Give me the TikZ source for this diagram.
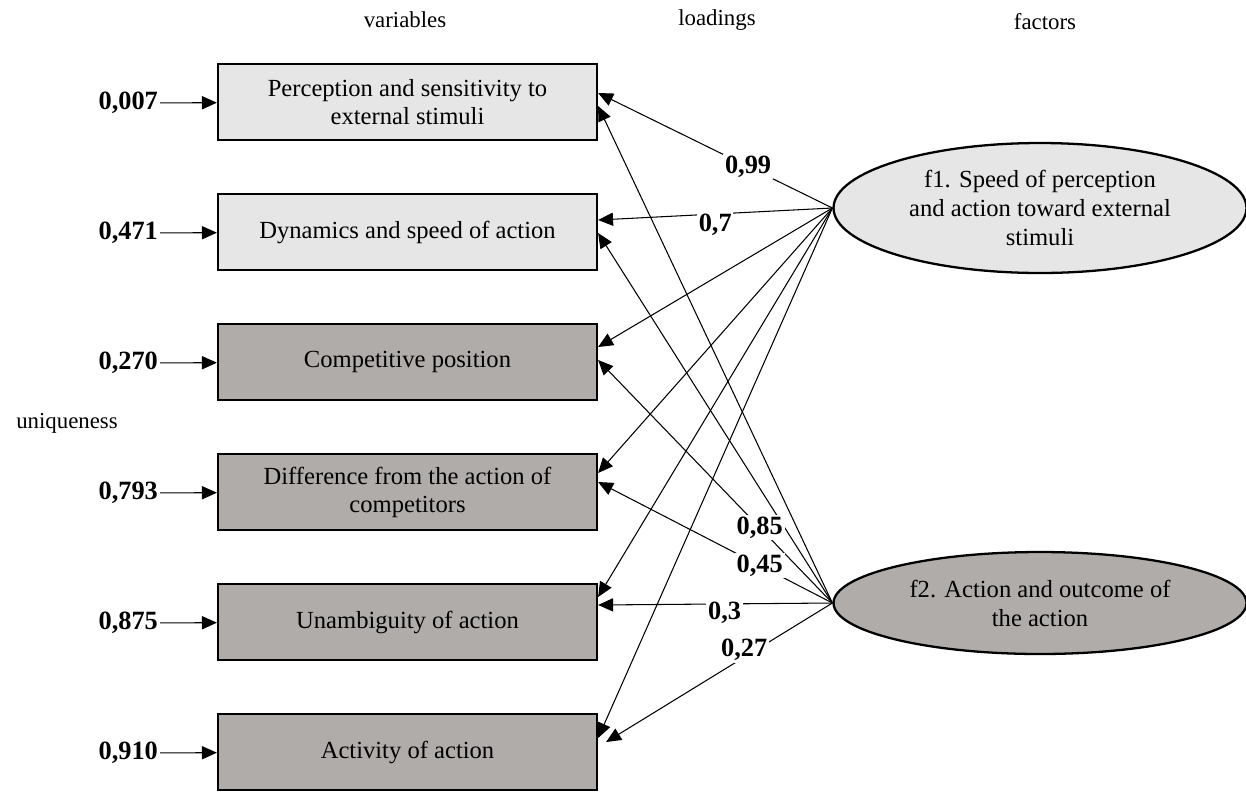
\documentclass[tikz,border=0pt]{standalone}
\usepackage{fontspec}
\setmainfont{Liberation Serif}
\usetikzlibrary{arrows.meta,shapes.geometric,calc}
\definecolor{lightfill}{RGB}{230,230,230}
\definecolor{darkfill}{RGB}{176,172,170}

\begin{document}
\begin{tikzpicture}[x=0.02cm, y=-0.02cm,
	var/.style = {rectangle, draw, line width=1.3pt, minimum width=7.58cm, minimum height=1.52cm, inner sep=0pt, align=center, font=\fontsize{14}{16}\selectfont},
	fac/.style = {ellipse, draw, line width=1.3pt, minimum width=8.26cm, inner sep=0pt, align=center, font=\fontsize{14}{16.5}\selectfont},
	uq/.style = {anchor=east, inner sep=1pt, font=\fontsize{15}{17}\selectfont\bfseries},
	ld/.style = {fill=white, inner sep=1pt, font=\fontsize{15}{17}\selectfont\bfseries},
	hd/.style = {font=\fontsize{13}{15}\selectfont},
	arr/.style = {-{Triangle[length=8.5pt, width=7.5pt]}, line width=0.6pt}]
	\useasboundingbox (0,0) rectangle (1246,792);

	% headers
	\node (hvar) at ( 405,  20)	[hd]	{variables};
	\node (hld)  at ( 717,  20)	[hd]	{loadings};
	\node (hfac) at (1045,  22)	[hd]	{factors};
	\node (huq)  at (  67, 423)	[hd]	{uniqueness};

	% variables
	\node (v1) at (407.5, 102)	[var, fill=lightfill]	{Perception and sensitivity to\\external stimuli};
	\node (v2) at (407.5, 232)	[var, fill=lightfill]	{Dynamics and speed of action};
	\node (v3) at (407.5, 362)	[var, fill=darkfill]	{Competitive position};
	\node (v4) at (407.5, 492)	[var, fill=darkfill]	{Difference from the action of\\competitors};
	\node (v5) at (407.5, 622)	[var, fill=darkfill]	{Unambiguity of action};
	\node (v6) at (407.5, 752)	[var, fill=darkfill]	{Activity of action};

	% factors
	\node (f1) at (1040, 208)	[fac, fill=lightfill, minimum height=2.6cm]	{f1. Speed of perception\\and action toward external\\stimuli};
	\node (f2) at (1040, 603)	[fac, fill=darkfill, minimum height=2.04cm]	{f2. Action and outcome of\\the action};

	% uniqueness
	\node (u1) at (160, 103)	[uq]	{0,007};
	\node (u2) at (160, 233)	[uq]	{0,471};
	\node (u3) at (160, 363)	[uq]	{0,270};
	\node (u4) at (160, 493)	[uq]	{0,793};
	\node (u5) at (160, 623)	[uq]	{0,875};
	\node (u6) at (160, 753)	[uq]	{0,910};
	\draw[arr] (u1) -- (v1);
	\draw[arr] (u2) -- (v2);
	\draw[arr] (u3) -- (v3);
	\draw[arr] (u4) -- (v4);
	\draw[arr] (u5) -- (v5);
	\draw[arr] (u6) -- (v6);

	% loadings of f1
	\draw[arr] (f1.west) -- node[ld, pos=0.36] {0,99} ($(v1.east)+(0,-9)$);
	\draw[arr] (f1.west) -- node[ld, pos=0.5, yshift=-6pt] {0,7} ($(v2.east)+(0,-12)$);
	\draw[arr] (f1.west) -- ($(v3.east)+(0,-15)$);
	\draw[arr] (f1.west) -- ($(v4.east)+(0,-19)$);
	\draw[arr] (f1.west) -- ($(v5.east)+(0,-25)$);
	\draw[arr] (f1.west) -- ($(v6.east)+(0,-14)$);

	% loadings of f2
	\draw[arr] (f2.west) -- ($(v1.east)+(0,4)$);
	\draw[arr] (f2.west) -- ($(v2.east)+(0,1)$);
	\draw[arr] (f2.west) -- node[ld, pos=0.31] {0,85} ($(v3.east)+(0,-2)$);
	\draw[arr] (f2.west) -- node[ld, pos=0.31] {0,45} ($(v4.east)+(0,-10)$);
	\draw[arr] (f2.west) -- node[ld, pos=0.46, yshift=-5pt] {0,3} ($(v5.east)+(0,-17)$);
	\draw[arr] (f2.west) -- node[ld, pos=0.39, yshift=4pt] {0,27} ($(v6.east)+(8,-10)$);
\end{tikzpicture}
\end{document}
